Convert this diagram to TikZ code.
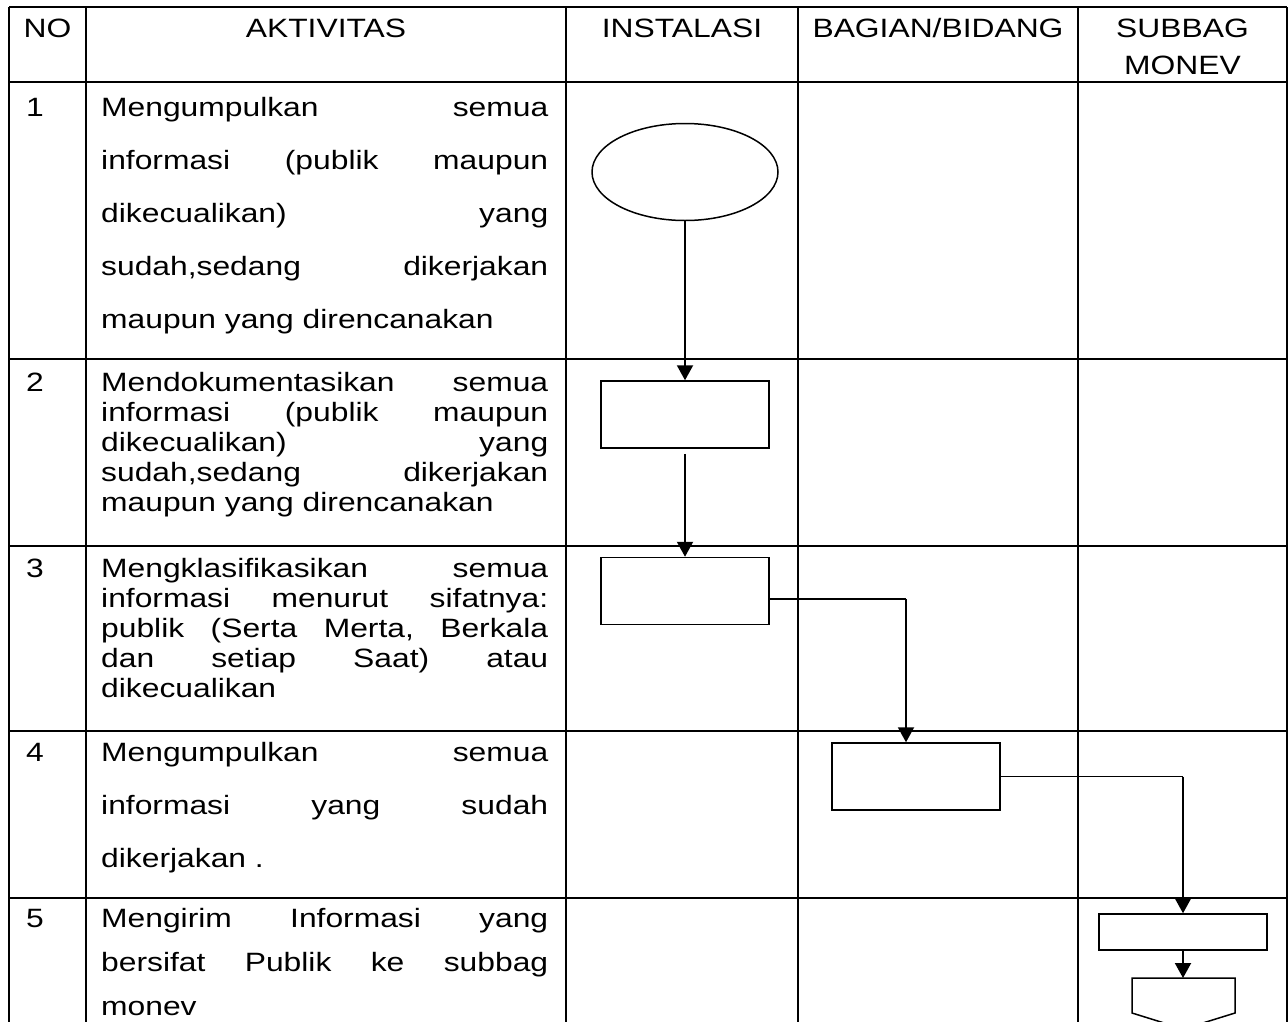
\documentclass[tikz,border=0pt]{standalone}
\usepackage{fontspec}
\setmainfont{Liberation Sans}[FakeStretch=1.2]
\usetikzlibrary{arrows.meta}
\usetikzlibrary{shapes.geometric}

\newcommand{\jl}[1]{\leavevmode\hbox to 447pt{\frenchspacing\spaceskip=0pt plus 1fil\relax #1}}

\begin{document}
\begin{tikzpicture}[x=1pt, y=-1pt,
                    tabel/.style={line width=2.4pt},
                    kotak/.style={draw, line width=1.5pt, minimum width=168pt, minimum height=67pt, inner sep=0pt},
                    panah/.style={line width=2pt, -{Triangle[length=15pt,width=16pt]}},
                    tipis/.style={line width=1.3pt},
                    judul/.style={anchor=base, inner sep=0pt, font={\fontsize{26.5}{37}\selectfont}, align=center},
                    nomor/.style={anchor=base west, inner sep=0pt, font={\fontsize{26.5}{30}\selectfont}},
                    isi/.style={anchor=base west, inner sep=0pt, text width=447pt, align=left}]
      \useasboundingbox (0,0) rectangle (1288,1021);
      \fill[white] (0,0) rectangle (1288,1021);
      \clip (0,0) rectangle (1288,1021);

      % tabel
      \draw[tabel] (9,7) -- (1287,7);
      \draw[tabel] (9,82) -- (1287,82);
      \draw[tabel] (9,359) -- (1287,359);
      \draw[tabel] (9,546) -- (1287,546);
      \draw[tabel] (9,731) -- (1287,731);
      \draw[tabel] (9,898) -- (1287,898);
      \draw[tabel] (9,7) -- (9,1030);
      \draw[tabel] (86,7) -- (86,1030);
      \draw[tabel] (566,7) -- (566,1030);
      \draw[tabel] (798,7) -- (798,1030);
      \draw[tabel] (1078,7) -- (1078,1030);
      \draw[tabel] (1287,7) -- (1287,1030);

      \node[judul] (hno) at (47.5,37) {NO};
      \node[judul] (hakt) at (326,37) {AKTIVITAS};
      \node[judul] (hins) at (682,37) {INSTALASI};
      \node[judul] (hbag) at (938,37) {BAGIAN/BIDANG};
      \node[judul] (hsub) at (1182.5,74) {SUBBAG\\MONEV};

      \node[nomor] (no1) at (26,116) {1};
      \node[nomor] (no2) at (26,391) {2};
      \node[nomor] (no3) at (26,577) {3};
      \node[nomor] (no4) at (26,761) {4};
      \node[nomor] (no5) at (26,927) {5};

      \node[isi, font={\fontsize{26.5}{53}\selectfont}] (a1) at (101,116)
        {\jl{Mengumpulkan semua}\\\jl{informasi (publik maupun}\\\jl{dikecualikan) yang}\\\jl{sudah,sedang dikerjakan}\\maupun yang direncanakan};
      \node[isi, font={\fontsize{26.5}{30}\selectfont}] (a2) at (101,391)
        {\jl{Mendokumentasikan semua}\\\jl{informasi (publik maupun}\\\jl{dikecualikan) yang}\\\jl{sudah,sedang dikerjakan}\\maupun yang direncanakan};
      \node[isi, font={\fontsize{26.5}{30}\selectfont}] (a3) at (101,577)
        {\jl{Mengklasifikasikan semua}\\\jl{informasi menurut sifatnya:}\\\jl{publik (Serta Merta, Berkala}\\\jl{dan setiap Saat) atau}\\dikecualikan};
      \node[isi, font={\fontsize{26.5}{53}\selectfont}] (a4) at (101,761)
        {\jl{Mengumpulkan semua}\\\jl{informasi yang sudah}\\dikerjakan .};
      \node[isi, font={\fontsize{26.5}{44}\selectfont}] (a5) at (101,927)
        {\jl{Mengirim Informasi yang}\\\jl{bersifat Publik ke subbag}\\monev};

      % bagan alir
      \node[ellipse, draw, line width=1.5pt, minimum width=186pt, minimum height=97pt, inner sep=0pt] (1) at (685,172) {};
      \node[kotak] (2) at (685,414.5) {};
      \node[kotak] (3) at (685,591) {};
      \node[kotak] (4) at (916,776.5) {};
      \node[kotak, minimum height=36pt] (5) at (1183,932) {};
      \coordinate (k3) at (906,599);
      \coordinate (k4) at (1183,776.5);
      \coordinate (p) at (1183,978);
      \draw[line width=1.5pt] (1132,978) -- (1235,978) -- (1235,1013) -- (1183.5,1029) -- (1132,1013) -- cycle;

      \draw[panah] (1) -- (2);
      \draw[panah, shorten <=5pt] (2) -- (3);
      \draw[tipis] ([yshift=-8pt]3.east) -- (k3);
      \draw[panah] (k3) -- (k3 |- 4.north);
      \draw[tipis] (4.east) -- (k4);
      \draw[panah] (k4) -- (5);
      \draw[panah] (5) -- (p);
\end{tikzpicture}
\end{document}
